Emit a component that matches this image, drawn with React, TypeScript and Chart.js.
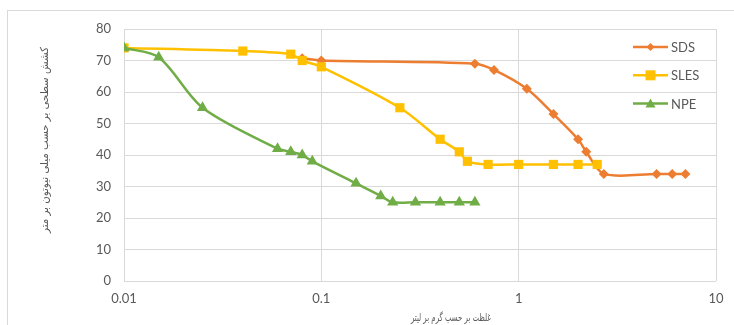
import React, { useEffect, useRef } from "react";
import { Chart, registerables } from "chart.js";

Chart.register(...registerables);

// ---- data ----
const seriesNames = ["SDS", "SLES", "NPE"];
const sdsX = [0.08, 0.1, 0.6, 0.75, 1.1, 1.5, 2.0, 2.2, 2.7, 5.0, 6.0, 7.0];
const sdsY = [70.7, 70, 69, 67, 61, 53, 45, 41, 34, 34, 34, 34];
const slesX = [0.01, 0.04, 0.07, 0.08, 0.1, 0.25, 0.4, 0.5, 0.55, 0.7, 1.0, 1.5, 2.0, 2.5];
const slesY = [74, 73, 72, 70, 68, 55, 45, 41, 38, 37, 37, 37, 37, 37];
const npeX = [0.01, 0.015, 0.025, 0.06, 0.07, 0.08, 0.09, 0.15, 0.2, 0.23, 0.3, 0.4, 0.5, 0.6];
const npeY = [74, 71, 55, 42, 41, 40, 38, 31, 27, 25, 25, 25, 25, 25];
const xTicks = [0.01, 0.1, 1, 10];
const xTickLabels = ["0.01", "0.1", "1", "10"];
const yMin = 0;
const yMax = 80;
const yStep = 10;
const xTitle = "غلظت بر حسب گرم بر لیتر";
const yTitle = "کشش سطحی بر حسب میلی نیوتون بر متر";

const colors = ["#ED7D31", "#FFC000", "#70AD47"];
const markers = ["rectRot", "rect", "triangle"];
const markerRadius = [5, 6.5, 6.5];

const TEXT = "#595959";
const GRID = "#d9d9d9";
const FONT = "Lato, 'Open Sans', sans-serif";

const toPoints = (xs: number[], ys: number[]) => xs.map((x, i) => ({ x, y: ys[i] }));

const framePlugin = {
  id: "frame",
  beforeDraw(chart: any) {
    const ctx = chart.ctx;
    ctx.save();
    ctx.fillStyle = "#ffffff";
    ctx.fillRect(0, 0, chart.width, chart.height);
    ctx.strokeStyle = GRID;
    ctx.lineWidth = 1;
    ctx.strokeRect(7.5, 10.5, chart.width + 20, chart.height + 20);
    ctx.restore();
  },
};

const legendPlugin = {
  id: "customLegend",
  afterDraw(chart: any) {
    const ctx = chart.ctx;
    const area = chart.chartArea;
    ctx.save();
    const x0 = area.right - 83;
    const x1 = area.right - 48;
    chart.data.datasets.forEach((ds: any, i: number) => {
      const y = area.top + 18 + i * 28.3;
      ctx.strokeStyle = ds.borderColor;
      ctx.lineWidth = 2.5;
      ctx.beginPath();
      ctx.moveTo(x0, y);
      ctx.lineTo(x1, y);
      ctx.stroke();
      ctx.fillStyle = ds.borderColor;
      const cx = (x0 + x1) / 2;
      const s = 4;
      ctx.beginPath();
      if (i === 0) {
        ctx.moveTo(cx, y - s);
        ctx.lineTo(cx + s, y);
        ctx.lineTo(cx, y + s);
        ctx.lineTo(cx - s, y);
      } else if (i === 1) {
        ctx.rect(cx - s - 1, y - s - 1, 2 * s + 2, 2 * s + 2);
      } else {
        ctx.moveTo(cx, y - s - 1);
        ctx.lineTo(cx + s + 1, y + s);
        ctx.lineTo(cx - s - 1, y + s);
      }
      ctx.closePath();
      ctx.fill();
      ctx.fillStyle = TEXT;
      ctx.font = `13px ${FONT}`;
      ctx.textBaseline = "middle";
      ctx.textAlign = "left";
      ctx.fillText(ds.label, x1 + 3, y + 1);
    });
    ctx.restore();
  },
};

const drawFitted = (ctx: any, text: string, targetWidth: number) => {
  const w = ctx.measureText(text).width;
  const k = w > 0 ? targetWidth / w : 1;
  ctx.save();
  ctx.scale(k, 1);
  ctx.fillText(text, 0, 0);
  ctx.restore();
};

const titlesPlugin = {
  id: "axisTitles",
  afterDraw(chart: any) {
    const ctx = chart.ctx;
    const area = chart.chartArea;
    ctx.save();
    ctx.fillStyle = TEXT;
    ctx.textAlign = "center";
    ctx.textBaseline = "middle";
    ctx.direction = "rtl";
    ctx.font = `11px 'DejaVu Sans', sans-serif`;
    ctx.save();
    ctx.translate(area.left + 327, area.bottom + 37);
    drawFitted(ctx, xTitle, 80);
    ctx.restore();
    ctx.translate(45, area.top + 111);
    ctx.rotate(-Math.PI / 2);
    ctx.font = `11px 'DejaVu Sans', sans-serif`;
    drawFitted(ctx, yTitle, 186);
    ctx.restore();
  },
};

export default function App() {
  const canvasRef = useRef<HTMLCanvasElement | null>(null);

  useEffect(() => {
    if (!canvasRef.current) return;
    const seriesX = [sdsX, slesX, npeX];
    const seriesY = [sdsY, slesY, npeY];
    const chart = new Chart(canvasRef.current, {
      type: "line",
      data: {
        datasets: seriesNames.map((name, i) => ({
          label: name,
          data: toPoints(seriesX[i], seriesY[i]),
          borderColor: colors[i],
          backgroundColor: colors[i],
          pointBackgroundColor: colors[i],
          pointBorderColor: colors[i],
          pointStyle: markers[i] as any,
          pointRadius: markerRadius[i],
          pointBorderWidth: 0,
          borderWidth: 2.5,
          tension: 0.3,
          fill: false,
          order: 3 - i,
        })),
      },
      options: {
        responsive: false,
        animation: false,
        layout: { padding: { left: 0, top: 29, right: 18, bottom: 0 } },
        plugins: {
          legend: { display: false },
          tooltip: { enabled: false },
        },
        scales: {
          x: {
            type: "logarithmic",
            min: xTicks[0],
            max: xTicks[xTicks.length - 1],
            afterBuildTicks: (scale: any) => {
              scale.ticks = xTicks.map((v) => ({ value: v }));
            },
            afterFit: (scale: any) => {
              scale.height = 44;
            },
            ticks: {
              autoSkip: false,
              maxRotation: 0,
              padding: 10,
              color: TEXT,
              font: { family: FONT, size: 13 },
              callback: (value: any) => {
                const idx = xTicks.indexOf(Number(value));
                return idx >= 0 ? xTickLabels[idx] : "";
              },
            },
            grid: { color: GRID, drawTicks: false, lineWidth: 1 },
            border: { display: false },
          },
          y: {
            type: "linear",
            min: yMin,
            max: yMax,
            afterFit: (scale: any) => {
              scale.width = 124;
            },
            ticks: {
              stepSize: yStep,
              padding: 13,
              color: TEXT,
              font: { family: FONT, size: 13 },
            },
            grid: { color: GRID, drawTicks: false, lineWidth: 1 },
            border: { display: false },
          },
        },
      },
      plugins: [framePlugin, legendPlugin, titlesPlugin],
    });
    return () => chart.destroy();
  }, []);

  return (
    <div style={{ position: "absolute", left: 0, top: 0, width: 734, height: 325 }}>
      <canvas ref={canvasRef} width={734} height={325} style={{ display: "block" }} />
    </div>
  );
}
